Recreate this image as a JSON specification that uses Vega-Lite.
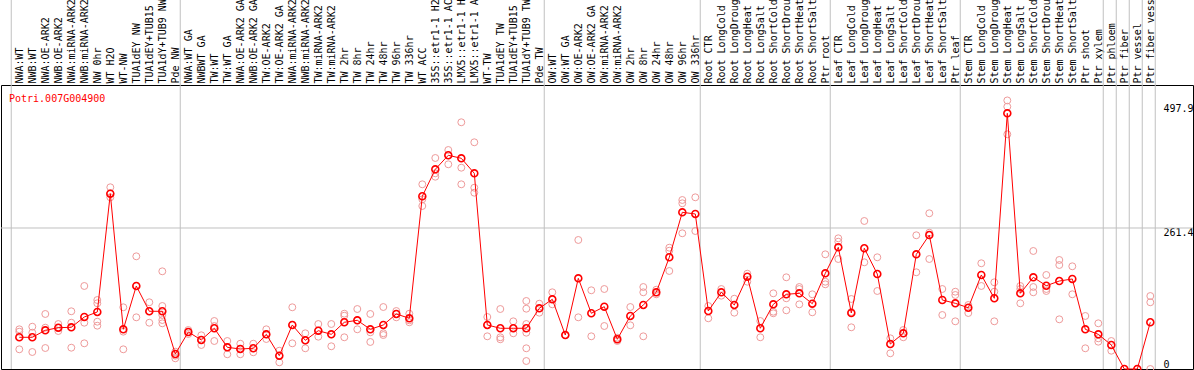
{
  "$schema": "https://vega.github.io/schema/vega-lite/v6.json",
  "width": 1192,
  "height": 284,
  "autosize": {"type": "none"},
  "padding": {"left": 1, "top": 85, "right": 1, "bottom": 1},
  "background": "white",
  "config": {
    "view": {"stroke": "black", "strokeWidth": 1},
    "font": "DejaVu Sans Mono",
    "axis": {"labelOverlap": false, "labelBound": false}
  },
  "title": {
    "text": "Potri.007G004900",
    "orient": "bottom",
    "anchor": "start",
    "frame": "group",
    "offset": -282,
    "baseline": "top",
    "dx": 8,
    "color": "#ff0000",
    "font": "DejaVu Sans Mono",
    "fontSize": 10,
    "fontWeight": "normal"
  },
  "datasets": {
    "samples": [
      {"i": 1, "mean": 58.8, "reps": [73.6, 69.2, 36.5]},
      {"i": 2, "mean": 58.8, "reps": [78.4, 67.3, 31.5]},
      {"i": 3, "mean": 71.7, "reps": [102.0, 76.6, 38.9]},
      {"i": 4, "mean": 76.6, "reps": [83.4, 76.0, 70.4]},
      {"i": 5, "mean": 77.3, "reps": [107.0, 85.8, 39.5]},
      {"i": 6, "mean": 96.4, "reps": [153.9, 85.8, 47.6]},
      {"i": 7, "mean": 105.7, "reps": [127.9, 121.8, 87.7, 80.3]},
      {"i": 8, "mean": 325.0, "reps": [336.9, 325.7, 318.3]},
      {"i": 9, "mean": 73.6, "reps": [114.4, 69.2, 36.5]},
      {"i": 10, "mean": 153.9, "reps": [208.9, 153.9, 95.8]},
      {"i": 11, "mean": 107.0, "reps": [123.7, 107.0, 85.8]},
      {"i": 12, "mean": 107.0, "reps": [181.1, 116.8, 100.1, 90.8, 84.7]},
      {"i": 13, "mean": 27.8, "reps": [32.1, 24.7, 19.8]},
      {"i": 14, "mean": 68.6, "reps": [72.3, 68.6, 64.9]},
      {"i": 15, "mean": 53.8, "reps": [62.5, 53.8, 44.5]},
      {"i": 16, "mean": 75.5, "reps": [89.0, 79.7, 51.9]},
      {"i": 17, "mean": 40.2, "reps": [51.9, 40.8, 27.3]},
      {"i": 18, "mean": 37.1, "reps": [46.9, 37.1, 27.3]},
      {"i": 19, "mean": 38.4, "reps": [46.9, 38.4, 31.0]},
      {"i": 20, "mean": 64.3, "reps": [73.6, 64.3, 55.6]},
      {"i": 21, "mean": 24.7, "reps": [33.9, 24.7, 12.4]},
      {"i": 22, "mean": 81.6, "reps": [114.4, 81.6, 47.6]},
      {"i": 23, "mean": 53.2, "reps": [66.2, 53.2, 38.4]},
      {"i": 24, "mean": 71.0, "reps": [83.4, 71.0, 59.9]},
      {"i": 25, "mean": 64.3, "reps": [83.4, 64.3, 42.1]},
      {"i": 26, "mean": 86.6, "reps": [102.5, 98.8, 58.8]},
      {"i": 27, "mean": 90.3, "reps": [111.2, 90.3, 73.6]},
      {"i": 28, "mean": 73.6, "reps": [102.0, 68.0, 50.1]},
      {"i": 29, "mean": 81.6, "reps": [114.9, 66.2, 63.0]},
      {"i": 30, "mean": 102.0, "reps": [107.5, 102.0, 95.8]},
      {"i": 31, "mean": 94.0, "reps": [102.5, 90.3, 86.6]},
      {"i": 32, "mean": 320.2, "reps": [342.4, 314.6, 302.2]},
      {"i": 33, "mean": 370.2, "reps": [391.2, 362.8, 356.5]},
      {"i": 34, "mean": 396.2, "reps": [406.0, 396.2, 379.5]},
      {"i": 35, "mean": 390.6, "reps": [457.4, 373.2, 342.4]},
      {"i": 36, "mean": 362.8, "reps": [420.3, 336.1, 326.8]},
      {"i": 37, "mean": 81.6, "reps": [96.4, 81.6, 60.6]},
      {"i": 38, "mean": 75.5, "reps": [111.2, 58.8, 55.1]},
      {"i": 39, "mean": 75.5, "reps": [88.4, 75.5, 66.2]},
      {"i": 40, "mean": 75.5, "reps": [126.1, 111.8, 83.4, 67.3, 38.4, 14.8]},
      {"i": 41, "mean": 112.5, "reps": [121.1, 104.4]},
      {"i": 42, "mean": 129.2, "reps": [142.2, 119.9]},
      {"i": 43, "mean": 63.0, "reps": [63.0, 63.0]},
      {"i": 44, "mean": 168.1, "reps": [239.2, 95.8]},
      {"i": 45, "mean": 103.3, "reps": [145.9, 60.6]},
      {"i": 46, "mean": 115.5, "reps": [148.3, 79.7]},
      {"i": 47, "mean": 55.1, "reps": [58.0, 51.9]},
      {"i": 48, "mean": 98.3, "reps": [114.9, 81.0]},
      {"i": 49, "mean": 118.7, "reps": [152.0, 142.2, 60.6]},
      {"i": 50, "mean": 142.2, "reps": [147.0, 138.5]},
      {"i": 51, "mean": 207.1, "reps": [224.9, 219.3, 181.7]},
      {"i": 52, "mean": 290.5, "reps": [313.3, 307.2, 251.6]},
      {"i": 53, "mean": 287.4, "reps": [318.3, 255.8]},
      {"i": 54, "mean": 107.5, "reps": [116.8, 94.0]},
      {"i": 55, "mean": 142.2, "reps": [148.3, 135.9]},
      {"i": 56, "mean": 118.7, "reps": [130.3, 104.4]},
      {"i": 57, "mean": 171.1, "reps": [176.7, 161.8]},
      {"i": 58, "mean": 75.5, "reps": [89.0, 58.8]},
      {"i": 59, "mean": 119.9, "reps": [140.3, 106.2, 103.3]},
      {"i": 60, "mean": 138.5, "reps": [170.0, 131.1, 108.8]},
      {"i": 61, "mean": 140.3, "reps": [152.0, 148.3, 119.9]},
      {"i": 62, "mean": 121.1, "reps": [138.5, 105.1]},
      {"i": 63, "mean": 177.4, "reps": [212.6, 161.8, 157.0]},
      {"i": 64, "mean": 225.6, "reps": [242.3, 236.0, 203.9]},
      {"i": 65, "mean": 103.8, "reps": [129.8, 105.7, 77.3]},
      {"i": 66, "mean": 223.8, "reps": [274.4, 197.8]},
      {"i": 67, "mean": 176.1, "reps": [207.1, 144.6]},
      {"i": 68, "mean": 46.3, "reps": [56.9, 29.1]},
      {"i": 69, "mean": 66.2, "reps": [72.3, 58.8]},
      {"i": 70, "mean": 212.6, "reps": [247.9, 179.3]},
      {"i": 71, "mean": 248.4, "reps": [288.7, 252.7, 203.9]},
      {"i": 72, "mean": 127.9, "reps": [148.3, 100.1]},
      {"i": 73, "mean": 121.8, "reps": [143.3, 137.2, 88.4]},
      {"i": 74, "mean": 113.6, "reps": [118.7, 103.8]},
      {"i": 75, "mean": 174.3, "reps": [196.0, 153.9]},
      {"i": 76, "mean": 131.1, "reps": [160.7, 143.3, 88.4]},
      {"i": 77, "mean": 474.0, "reps": [497.9, 486.3, 435.1]},
      {"i": 78, "mean": 140.3, "reps": [153.9, 148.3, 121.8]},
      {"i": 79, "mean": 170.0, "reps": [218.8, 152.0, 142.2]},
      {"i": 80, "mean": 154.4, "reps": [174.3, 148.3, 144.6]},
      {"i": 81, "mean": 163.1, "reps": [202.1, 192.8, 92.1]},
      {"i": 82, "mean": 166.9, "reps": [190.4, 138.5]},
      {"i": 83, "mean": 73.6, "reps": [98.3, 38.4]},
      {"i": 84, "mean": 64.3, "reps": [84.7, 56.9, 50.6]},
      {"i": 85, "mean": 44.5, "reps": [51.9, 33.9]},
      {"i": 86, "mean": 0, "reps": [0]},
      {"i": 87, "mean": 0, "reps": [0]},
      {"i": 88, "mean": 86.6, "reps": [135.3, 123.7, 0]}
    ],
    "separators": [
      {"b": 0.38}, {"b": 13.38}, {"b": 41.38}, {"b": 53.38}, {"b": 63.38}, {"b": 73.38},
      {"b": 84.38}, {"b": 85.38}, {"b": 86.38}, {"b": 87.38}, {"b": 88.38}
    ],
    "levels": [{"level": 261.4}]
  },
  "layer": [
    {
      "data": {"name": "levels"},
      "mark": {"type": "rule", "color": "#c0c0c0", "strokeWidth": 1},
      "encoding": {
        "y": {
          "field": "level", "type": "quantitative",
          "scale": {"domain": [0, 526.5], "nice": false, "zero": true},
          "axis": {
            "orient": "right", "offset": -31, "values": [0, 261.4, 497.9], "format": ".1~f",
            "grid": false, "ticks": false, "tickSize": 0, "domain": false, "labelPadding": 1,
            "labelFont": "DejaVu Sans Mono", "labelFontSize": 10, "labelColor": "black",
            "labelAlign": "left",
            "labelBaseline": {"condition": {"test": "datum.value == 0", "value": "bottom"}, "value": "top"},
            "labelOffset": {"condition": {"test": "datum.value > 400", "value": 3}, "value": 0},
            "labelOverlap": false, "labelFlush": false, "title": null
          }
        }
      }
    },
    {
      "data": {"name": "separators"},
      "mark": {"type": "rule", "color": "#c0c0c0", "strokeWidth": 1, "clip": false},
      "encoding": {
        "x": {
          "field": "b", "type": "quantitative",
          "scale": {"domain": [-0.408, 91.284], "nice": false, "zero": false},
          "axis": {
            "orient": "top", "tickCount": 100, "values": [1,2,3,4,5,6,7,8,9,10,11,12,13,14,15,16,17,18,19,20,21,22,23,24,25,26,27,28,29,30,31,32,33,34,35,36,37,38,39,40,41,42,43,44,45,46,47,48,49,50,51,52,53,54,55,56,57,58,59,60,61,62,63,64,65,66,67,68,69,70,71,72,73,74,75,76,77,78,79,80,81,82,83,84,85,86,87,88],
            "labelExpr": "['NWA:WT','NWB:WT','NWA:OE-ARK2','NWB:OE-ARK2','NWA:miRNA-ARK2','NWB:miRNA-ARK2','NW 0hr','WT H2O','WT-NW','TUA1dEY NW','TUA1dEY+TUB15 NW','TUA1dY+TUB9 NW','Pde NW','NWA:WT GA','NWBWT GA','TW:WT','TW:WT GA','NWA:OE-ARK2 GA','NWB:OE-ARK2 GA','TW:OE-ARK2','TW:OE-ARK2 GA','NWA:miRNA-ARK2 GA','NWB:miRNA-ARK2 GA','TW:miRNA-ARK2','TW:miRNA-ARK2 GA','TW 2hr','TW 8hr','TW 24hr','TW 48hr','TW 96hr','TW 336hr','WT ACC','35S::etr1-1 H2O','35S::etr1-1 ACC','LMX5::etr1-1 H2O','LMX5::etr1-1 ACC','WT-TW','TUA1dEY TW','TUA1dEY+TUB15 TW','TUA1dY+TUB9 TW','Pde TW','OW:WT','OW:WT GA','OW:OE-ARK2','OW:OE-ARK2 GA','OW:miRNA-ARK2','OW:miRNA-ARK2 GA','OW 2hr','OW 8hr','OW 24hr','OW 48hr','OW 96hr','OW 336hr','Root CTR','Root LongCold','Root LongDrought','Root LongHeat','Root LongSalt','Root ShortCold','Root ShortDrought','Root ShortHeat','Root ShortSalt','Ptr root','Leaf CTR','Leaf LongCold','Leaf LongDrought','Leaf LongHeat','Leaf LongSalt','Leaf ShortCold','Leaf ShortDrought','Leaf ShortHeat','Leaf ShortSalt','Ptr leaf','Stem CTR','Stem LongCold','Stem LongDrought','Stem LongHeat','Stem LongSalt','Stem ShortCold','Stem ShortDrought','Stem ShortHeat','Stem ShortSalt','Ptr shoot','Ptr xylem','Ptr phloem','Ptr fiber','Ptr vessel','Ptr fiber vessel'][datum.value - 1]",
            "labelAngle": -90, "labelAlign": "left", "labelBaseline": "middle",
            "labelPadding": 2, "ticks": false, "tickSize": 0, "domain": false, "grid": false,
            "labelFont": "DejaVu Sans Mono", "labelFontSize": 10, "labelColor": "black",
            "labelOverlap": false, "labelFlush": false, "labelBound": false, "labelLimit": 400,
            "title": null
          }
        },
        "y": {"datum": 0, "type": "quantitative"},
        "y2": {"datum": 700}
      }
    },
    {
      "data": {"name": "samples"},
      "transform": [{"flatten": ["reps"]}],
      "mark": {"type": "point", "shape": "circle", "size": 48, "strokeWidth": 1, "color": "#ee9a9a", "opacity": 1, "filled": false},
      "encoding": {
        "x": {"field": "i", "type": "quantitative"},
        "y": {"field": "reps", "type": "quantitative"}
      }
    },
    {
      "data": {"name": "samples"},
      "mark": {"type": "line", "color": "#ff0000", "strokeWidth": 1},
      "encoding": {
        "x": {"field": "i", "type": "quantitative"},
        "y": {"field": "mean", "type": "quantitative"}
      }
    },
    {
      "data": {"name": "samples"},
      "mark": {"type": "point", "shape": "circle", "size": 48, "strokeWidth": 1.6, "color": "#ff0000", "opacity": 1, "filled": false},
      "encoding": {
        "x": {"field": "i", "type": "quantitative"},
        "y": {"field": "mean", "type": "quantitative"}
      }
    }
  ]
}
